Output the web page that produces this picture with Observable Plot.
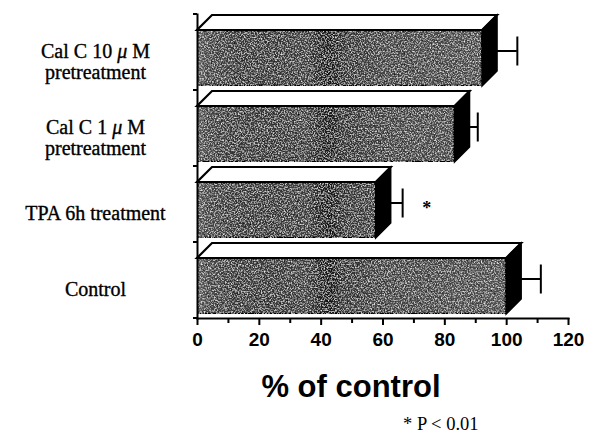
<!DOCTYPE html>
<html>
<head>
<meta charset="utf-8">
<script src="https://cdn.jsdelivr.net/npm/d3@7"></script>
<script src="https://cdn.jsdelivr.net/npm/@observablehq/plot@0.6"></script>
<style>
  body { margin: 0; background: white; }
  #wrap { position: relative; width: 595px; height: 435px; background: white; overflow: hidden; }
  #xlabel { position: absolute; top: 371px; left: 351px; transform: translateX(-50%);
            font: bold 31px "Liberation Sans", Arial, sans-serif; line-height: 31px; white-space: nowrap; color: black; }
  #note { position: absolute; top: 415px; left: 403px;
          font: 18.5px "Liberation Serif", "Times New Roman", serif; line-height: 18px; white-space: nowrap; color: black; }
</style>
</head>
<body>
<div id="wrap">
  <div id="chart"></div>
  <div id="xlabel"></div>
  <div id="note"></div>
</div>
<script>
// ---- data ----
const categories = ["Cal C 10 \u03bc M\npretreatment", "Cal C 1 \u03bc M\npretreatment", "TPA 6h treatment", "Control"];
const values = [92.2, 83.3, 57.8, 100];
const errors = [6.4, 2.5, 3.7, 6.2];
const sigMarks = ["", "", "*", ""];
const xTicks = [0, 20, 40, 60, 80, 100, 120];
const xMinorTicks = [10, 30, 50, 70, 90, 110];
const xLabel = "% of control";
const note = "* P < 0.01";

const data = categories.map((c, i) => ({cat: c, value: values[i], err: errors[i], mark: sigMarks[i]}));

// ---- styling constants ----
const DEPTH = 15;      // 3D depth offset in px
const INSET_TOP = 16;
const INSET_BOTTOM = 4;

const chart = Plot.plot({
  width: 595,
  height: 360,
  marginLeft: 197,
  marginRight: 27,
  marginTop: 14,
  marginBottom: 42,
  style: {fontFamily: "Liberation Serif", fontSize: "20px", background: "white", overflow: "visible", color: "black"},
  x: {domain: [0, 120], label: null},
  y: {domain: categories, padding: 0, axis: null, label: null},
  marks: [
    Plot.barX(data, {
      x: "value", y: "cat",
      insetTop: INSET_TOP, insetBottom: INSET_BOTTOM,
      fill: "url(#barfill)", stroke: "black", strokeWidth: 2.4,
      render(index, scales, vals, dims, context, next) {
        const g = next(index, scales, vals, dims, context);
        const sel = d3.select(g);
        sel.selectAll("rect").attr("filter", "url(#grain)");
        const bw = (dims.height - dims.marginTop - dims.marginBottom) / categories.length;
        const X1 = vals.x1, X2 = vals.x2, Y = vals.y;
        for (const i of index) {
          const l = X1[i], r = X2[i];
          const t = Y[i] + INSET_TOP, b = Y[i] + bw - INSET_BOTTOM;
          // top face
          sel.append("polygon")
            .attr("points", [[l, t], [r, t], [r + DEPTH, t - DEPTH], [l + DEPTH, t - DEPTH]].map(p => p.join(",")).join(" "))
            .attr("fill", "white").attr("stroke", "black").attr("stroke-width", 2.2).attr("stroke-linejoin", "miter");
          // side face
          sel.append("polygon")
            .attr("points", [[r, t], [r + DEPTH, t - DEPTH], [r + DEPTH, b - DEPTH], [r, b]].map(p => p.join(",")).join(" "))
            .attr("fill", "black").attr("stroke", "black").attr("stroke-width", 1.5);
        }
        // y-axis ticks at band boundaries
        const x0 = dims.marginLeft;
        const bounds = [];
        for (const i of index) bounds.push(Y[i]);
        bounds.push(Math.max(...bounds) + bw);
        for (const yb of bounds) {
          sel.append("line").attr("x1", x0 - 4).attr("x2", x0).attr("y1", yb).attr("y2", yb)
            .attr("stroke", "black").attr("stroke-width", 2);
        }
        return g;
      }
    }),
    // error bars
    Plot.ruleY(data, {x1: "value", x2: d => d.value + d.err, y: "cat", dx: DEPTH, dy: -1.5, stroke: "black", strokeWidth: 2}),
    Plot.tickX(data, {x: d => d.value + d.err, y: "cat", dx: DEPTH, dy: -1.5, insetTop: 24, insetBottom: 23, stroke: "black", strokeWidth: 2}),
    // significance marker
    Plot.text(data, {x: d => d.value + d.err, y: "cat", text: "mark", dx: DEPTH + 24, dy: 4,
      fontSize: 18, fontWeight: "bold", fontFamily: "Liberation Serif"}),
    // category labels
    Plot.text(data, {y: "cat", text: "cat", frameAnchor: "left", dx: -102, dy: 9, textAnchor: "middle",
      lineAnchor: "middle", lineHeight: 1.07, fontSize: 20, fontFamily: "Liberation Serif",
      stroke: "black", strokeWidth: 0.35, fill: "black", className: "catlabel"}),
    // axes lines
    Plot.frame({anchor: "left", stroke: "black", strokeWidth: 2}),
    Plot.frame({anchor: "bottom", stroke: "black", strokeWidth: 2}),
    Plot.axisX({ticks: xTicks, tickSize: 7, tickPadding: 7, strokeWidth: 2, label: null,
      fontSize: 19, fontWeight: "bold", fontFamily: "Liberation Sans"}),
    Plot.axisX({ticks: xMinorTicks, tickSize: 5, tickFormat: () => "", strokeWidth: 2, label: null})
  ]
});

// italic mu in category labels
d3.select(chart).selectAll("g.catlabel text, g.catlabel tspan").each(function() {
  const el = d3.select(this);
  if (this.childElementCount > 0) return;
  const s = el.text();
  if (!s.includes("\u03bc")) return;
  const parts = s.split("\u03bc");
  el.text(null);
  parts.forEach((p, k) => {
    if (k > 0) el.append("tspan").attr("font-style", "italic").text("\u03bc");
    el.append("tspan").text(p);
  });
});

// gradient + grain definitions
const xs = chart.scale("x");
const gx1 = xs.apply(0), gx2 = xs.apply(105);
const defs = d3.select(chart).insert("defs", ":first-child");
const grad = defs.append("linearGradient").attr("id", "barfill").attr("gradientUnits", "userSpaceOnUse")
  .attr("x1", gx1).attr("x2", gx2).attr("y1", 0).attr("y2", 0);
[[0, "#6c6c6c"], [0.03, "#505050"], [0.12, "#404040"], [0.25, "#3e3e3e"], [0.34, "#474747"],
 [0.38, "#2a2a2a"], [0.41, "#1e1e1e"], [0.45, "#3a3a3a"], [0.58, "#4c4c4c"], [0.8, "#525252"], [1, "#5a5a5a"]]
  .forEach(([o, c]) => grad.append("stop").attr("offset", o).attr("stop-color", c));
const f = defs.append("filter").attr("id", "grain").attr("x", 0).attr("y", 0).attr("width", 1).attr("height", 1);
f.append("feTurbulence").attr("type", "fractalNoise").attr("baseFrequency", "0.7").attr("numOctaves", 2).attr("seed", 7).attr("result", "n");
f.append("feColorMatrix").attr("in", "n").attr("type", "matrix")
  .attr("values", "0 0 0 0 1  0 0 0 0 1  0 0 0 0 1  2.2 0 0 0 -1.0").attr("result", "w");
f.append("feColorMatrix").attr("in", "n").attr("type", "matrix")
  .attr("values", "0 0 0 0 0  0 0 0 0 0  0 0 0 0 0  0 2.0 0 0 -0.85").attr("result", "k");
f.append("feComposite").attr("in", "w").attr("in2", "SourceGraphic").attr("operator", "in").attr("result", "wm");
f.append("feComposite").attr("in", "k").attr("in2", "SourceGraphic").attr("operator", "in").attr("result", "km");
const m = f.append("feMerge");
m.append("feMergeNode").attr("in", "SourceGraphic");
m.append("feMergeNode").attr("in", "wm");
m.append("feMergeNode").attr("in", "km");

document.getElementById("chart").appendChild(chart);
document.getElementById("xlabel").textContent = xLabel;
document.getElementById("note").textContent = note;
</script>
</body>
</html>
